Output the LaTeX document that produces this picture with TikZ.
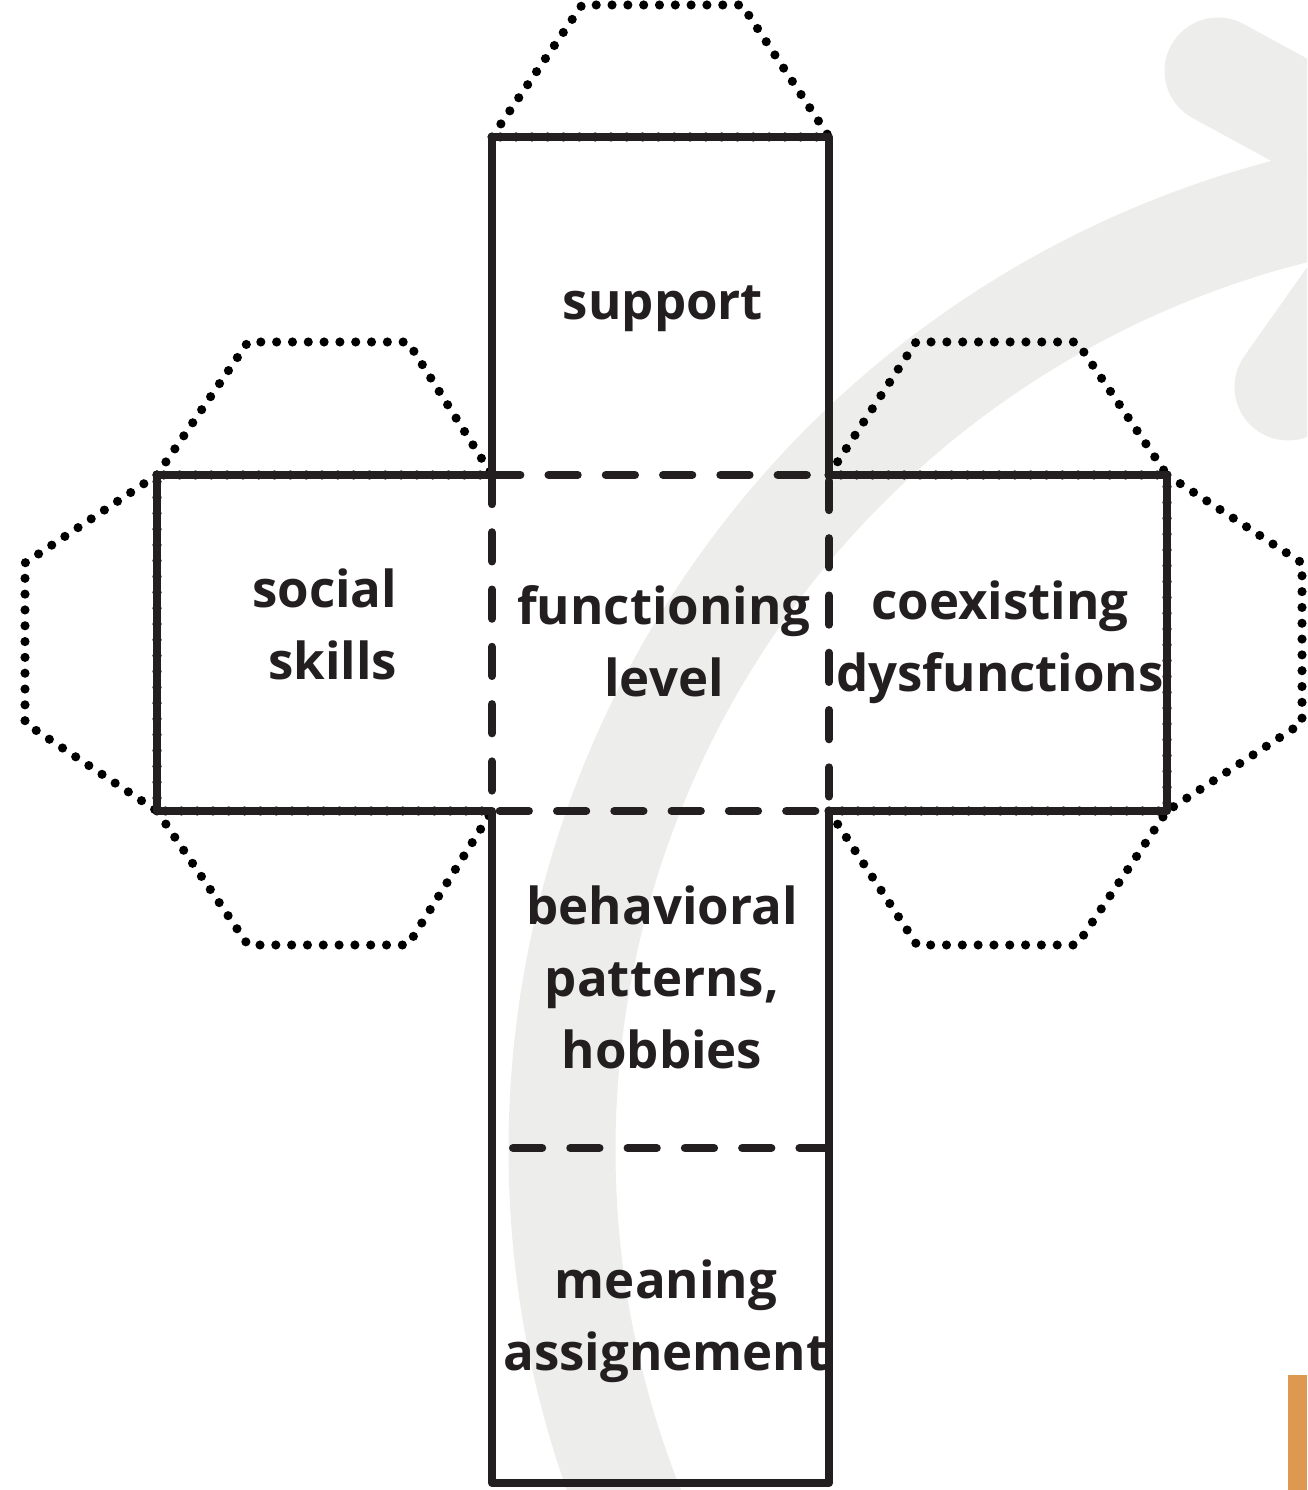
\documentclass[tikz,border=0pt]{standalone}
\usepackage{fontspec}
\setmainfont{Open Sans}
\usetikzlibrary{positioning}
\definecolor{inkdark}{RGB}{35,31,32}
\definecolor{arcgrey}{RGB}{237,237,236}
\definecolor{tabamber}{RGB}{221,153,79}
\tikzset{
        cutline/.style={draw=inkdark, line width=2.3pt, line join=round}, % outer edges of the net
        foldline/.style={draw=inkdark, line width=2.3pt, line cap=round, dash pattern=on 8.3pt off 8pt},
        flapline/.style={draw=black, line width=2.6pt, line cap=round, dash pattern=on 0pt off 4.5pt},
        facetext/.style={font=\bfseries\fontsize{14.5}{20.5}\selectfont, text=inkdark, align=center, inner sep=0pt}
        }

\begin{document}
\begin{tikzpicture}
        \useasboundingbox (0,0) rectangle (13.07,14.90);
        % background arrow
        \begin{scope}
        \clip (0,0) rectangle (13.07,14.90);
        \draw[arcgrey, line width=1.07cm] (15.31,3.40) ++(203:9.69) arc[start angle=203, end angle=96, radius=9.69] coordinate (tip);
        \draw[arcgrey, line width=1.07cm, line cap=round, line join=round] (12.18,14.19) -- (tip) -- (12.88,11.03);
        \end{scope}
        \fill[tabamber] (12.88,0) rectangle (13.07,1.15);
        % flaps
        \draw[flapline] (4.92,13.53) -- (5.82,14.85) -- (7.42,14.85) -- (8.29,13.53) -- cycle;
        \draw[flapline] (1.57,10.15) -- (2.48,11.48) -- (4.08,11.48) -- (4.92,10.15) -- cycle;
        \draw[flapline] (1.57,6.79) -- (2.48,5.45) -- (4.08,5.45) -- (4.92,6.79) -- cycle;
        \draw[flapline] (1.57,10.15) -- (0.25,9.27) -- (0.25,7.67) -- (1.57,6.79) -- cycle;
        \draw[flapline] (8.29,10.15) -- (9.16,11.48) -- (10.77,11.48) -- (11.67,10.15) -- cycle;
        \draw[flapline] (8.29,6.79) -- (9.17,5.45) -- (10.77,5.45) -- (11.67,6.79) -- cycle;
        \draw[flapline] (11.67,10.15) -- (13.02,9.27) -- (13.02,7.67) -- (11.67,6.79) -- cycle;
        % net outline and folds
        \draw[cutline] (4.92,13.53) -- (8.29,13.53) -- (8.29,10.15) -- (11.67,10.15) -- (11.67,6.79)
              -- (8.29,6.79) -- (8.29,0.07) -- (4.92,0.07) -- (4.92,6.79) -- (1.57,6.79)
              -- (1.57,10.15) -- (4.92,10.15) -- cycle;
        \draw[foldline] (4.92,10.15) rectangle (8.29,6.79);
        \draw[foldline] (5.13,3.42) -- (8.29,3.42);
        % faces
        \node[facetext] (support) at (6.63,11.81) {support};
        \node[facetext, align=right, anchor=east] (social) at (3.98,8.66) {social\\skills};
        \node[facetext] (level) at (6.64,8.49) {functioning\\level};
        \node[facetext] (coexist) at (10.00,8.48) {coexisting\\dysfunctions};
        \node[facetext] (habits) at (6.62,5.13) {behavioral\\patterns,\\hobbies};
        \node[facetext] (meaning) at (6.66,1.69) {meaning\\assignement};
\end{tikzpicture}
\end{document}
